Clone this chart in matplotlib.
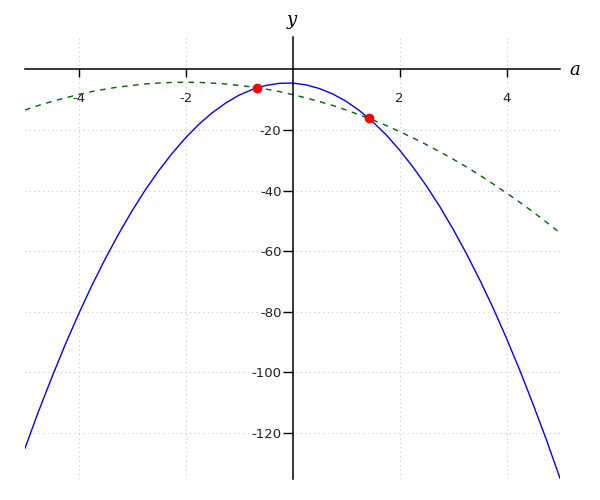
import matplotlib
matplotlib.use('Agg')
import matplotlib.pyplot as plt

# sample points
a_vals = [-5.0, -4.75, -4.5, -4.25, -4.0, -3.75, -3.5, -3.25, -3.0, -2.75, -2.5,
          -2.25, -2.0, -1.75, -1.5, -1.25, -1.0, -0.75, -0.5, -0.25, 0.0,
          0.25, 0.5, 0.75, 1.0, 1.25, 1.5, 1.75, 2.0, 2.25, 2.5,
          2.75, 3.0, 3.25, 3.5, 3.75, 4.0, 4.25, 4.5, 4.75, 5.0]
blue_y = [-125.0, -113.0, -101.7, -90.9, -80.8, -71.3, -62.5, -54.3, -46.7, -39.7, -33.4,
          -27.7, -22.6, -18.1, -14.3, -11.1, -8.5, -6.6, -5.3, -4.6, -4.5,
          -5.1, -6.3, -8.1, -10.5, -13.6, -17.3, -21.6, -26.6, -32.2, -38.4,
          -45.2, -52.7, -60.8, -69.5, -78.8, -88.8, -99.4, -110.7, -122.5, -135.0]
green_y = [-13.4, -11.9, -10.6, -9.4, -8.3, -7.3, -6.5, -5.8, -5.3, -4.8, -4.5,
           -4.3, -4.2, -4.3, -4.5, -4.8, -5.3, -5.8, -6.5, -7.3, -8.3,
           -9.4, -10.6, -11.9, -13.4, -15.0, -16.7, -18.5, -20.5, -22.6, -24.8,
           -27.2, -29.6, -32.2, -34.9, -37.8, -40.8, -43.9, -47.1, -50.5, -54.0]
cross_a = [-0.67, 1.42]
cross_y = [-6.1, -16.0]

xticks = [-4, -2, 2, 4]
yticks = [-120, -100, -80, -60, -40, -20]

fig = plt.figure(figsize=(6, 5), dpi=100)
ax = fig.add_axes([0.0417, 0.042, 0.8917, 0.884])

ax.plot(a_vals, blue_y, color='blue', lw=1.0)
ax.plot(a_vals, green_y, color='darkgreen', lw=1.0, ls=(0, (4, 4)))
ax.plot(cross_a, cross_y, 'o', color='red', ms=6, zorder=5)

ax.set_xlim(-5, 5)
ax.set_ylim(-135.2, 10.7)

ax.spines['left'].set_position(('data', 0))
ax.spines['bottom'].set_position(('data', 0))
ax.spines['top'].set_visible(False)
ax.spines['right'].set_visible(False)
ax.spines['left'].set_linewidth(1.1)
ax.spines['bottom'].set_linewidth(1.1)

ax.set_xticks(xticks)
ax.set_yticks(yticks)
ax.set_xticklabels([str(t) for t in xticks])
ax.set_yticklabels([str(t) for t in yticks])
ax.tick_params(axis='x', direction='out', length=6, width=1, pad=10,
               labelsize=9.5, labelcolor='#222222')
ax.tick_params(axis='y', direction='out', length=7, width=1, pad=1,
               labelsize=9.5, labelcolor='#222222')

for t in xticks:
    ax.axvline(t, color='#c8c8c8', ls=(0, (1, 3)), lw=0.8, zorder=0)
for t in yticks:
    ax.axhline(t, color='#c8c8c8', ls=(0, (1, 3)), lw=0.8, zorder=0)

fig.text(292 / 600, 1 - 20 / 500, 'y', family='DejaVu Serif', style='italic',
         fontsize=13, ha='center', va='center')
fig.text(575 / 600, 1 - 70 / 500, 'a', family='DejaVu Serif', style='italic',
         fontsize=13, ha='center', va='center')

fig.savefig('out.png', dpi=100)
